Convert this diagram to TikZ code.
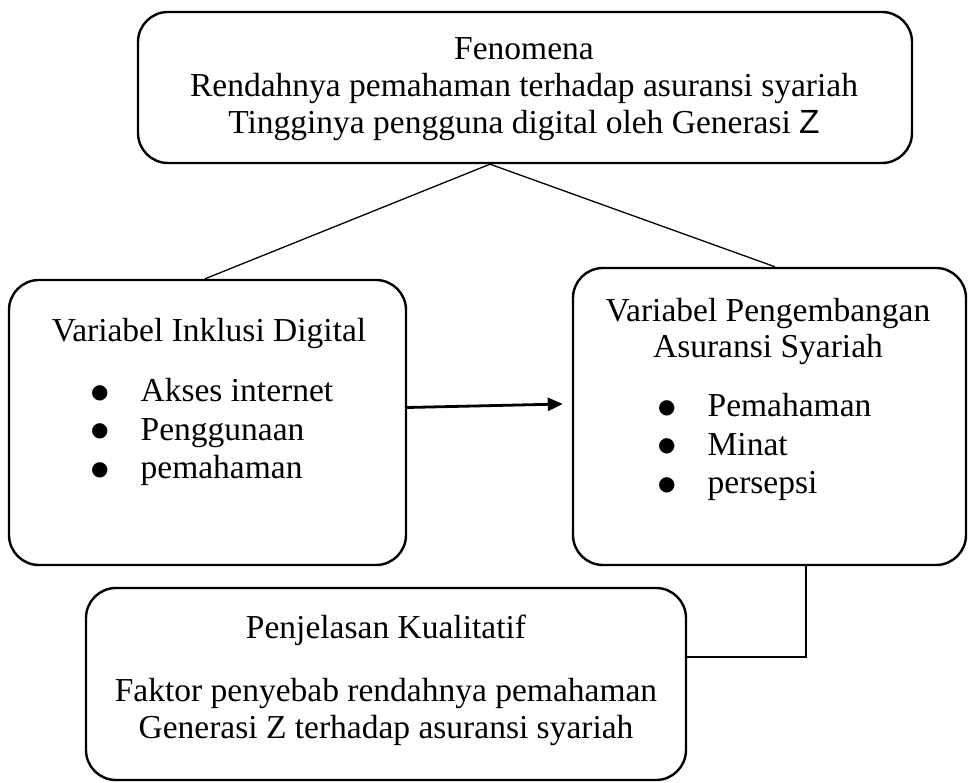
\documentclass[tikz,border=0pt]{standalone}
\usepackage{fontspec}
\setmainfont{Liberation Serif}
\newfontfamily\dejavu{DejaVu Sans}
\usetikzlibrary{calc,arrows.meta}
\newcommand{\bigbul}{\raisebox{3.6pt}{\dejavu\fontsize{20}{22}\selectfont ●}}
\begin{document}
\begin{tikzpicture}[x=1pt,y=-1pt,
  box/.style={draw,line width=2.4pt,rounded corners=30pt,inner sep=0pt},
  txt/.style={inner sep=0pt,font=\fontsize{33.5}{40}\selectfont,anchor=base},
  list/.style={inner sep=0pt,font=\fontsize{33.5}{38.5}\selectfont,anchor=base west},
  conn/.style={line width=1.3pt},
  arr/.style={line width=2.8pt,-{Triangle[length=15pt,width=13pt]}}]
\useasboundingbox (0,0) rectangle (970,783);
% boxes
\node[box,minimum width=774pt,minimum height=151pt] (top) at (525,87.5) {};
\node[box,minimum width=397pt,minimum height=285pt] (left) at (207.5,422.5) {};
\node[box,minimum width=393pt,minimum height=297pt] (right) at (769.5,416.5) {};
\node[box,minimum width=600pt,minimum height=192pt] (bottom) at (386,684) {};
% texts
\node[txt] (t1) at (524,60) {Fenomena};
\node[txt] (t2) at (524,97) {Rendahnya pemahaman terhadap asuransi syariah};
\node[txt] (t3) at (524,134) {Tingginya pengguna digital oleh Generasi {\fontspec{Liberation Sans}Z}};
\node[txt] (l0) at (209,342) {Variabel Inklusi Digital};
\node[list] (llist) at (91,402) {\begin{tabular}[t]{@{}l@{\hspace{32pt}}l@{}}
  \bigbul & Akses internet\\
  \bigbul & Penggunaan\\
  \bigbul & pemahaman
\end{tabular}};
\node[txt] (r0) at (768,322) {Variabel Pengembangan};
\node[txt] (r0b) at (768,358) {Asuransi Syariah};
\node[list] (rlist) at (658,417) {\begin{tabular}[t]{@{}l@{\hspace{32pt}}l@{}}
  \bigbul & Pemahaman\\
  \bigbul & Minat\\
  \bigbul & persepsi
\end{tabular}};
\node[txt] (b0) at (386,638) {Penjelasan Kualitatif};
\node[txt] (b1) at (386,701) {Faktor penyebab rendahnya pemahaman};
\node[txt] (b2) at (386,738) {Generasi Z terhadap asuransi syariah};
% connector points
\coordinate (apex) at (top.south -| 490,0);
\coordinate (lt) at (left.north -| 205,0);
\coordinate (rt) at (right.north -| 775,0);
\coordinate (rb) at (right.south -| 806,0);
\coordinate (corner) at (806,657);
\draw[conn] (lt) -- (apex) -- (rt);
\draw[arr] ($(left.east)+(0,-15)$) -- ($(right.west)+(-9,-12.5)$);
\draw[conn] (rb) -- (corner) -- (corner -| bottom.east);
\end{tikzpicture}
\end{document}
